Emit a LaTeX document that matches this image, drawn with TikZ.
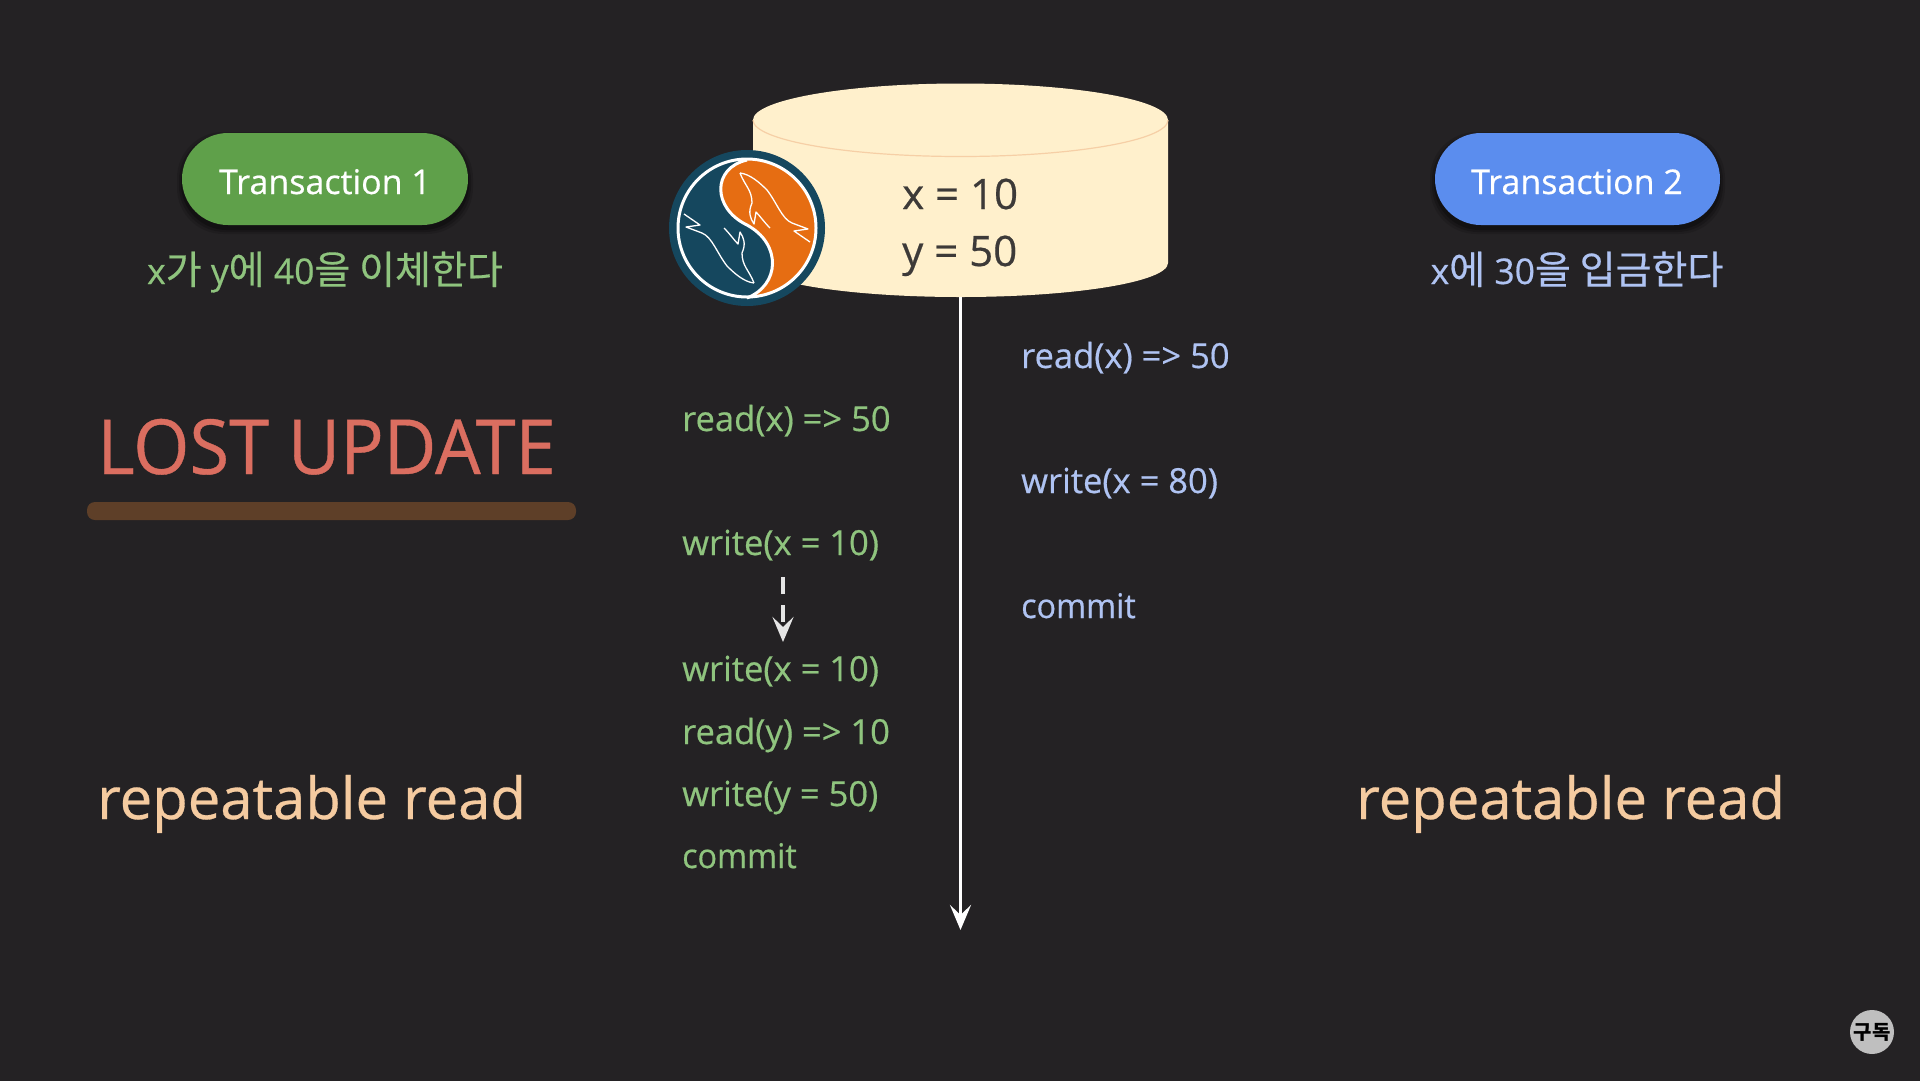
\documentclass[tikz,border=0pt]{standalone}
\usepackage{fontspec}
\setmainfont[FakeBold=0.5]{Open Sans}
\newfontfamily\headfont[FakeStretch=.95,FakeBold=0.5]{Open Sans}
\newfontfamily\commitfont[FakeStretch=.95,FakeBold=0.5]{Open Sans}
\newfontfamily\krfont[Scale=1.1,FakeBold=0.4]{Noto Sans CJK KR}
\newfontfamily\badgefont{Noto Sans CJK KR}
\usetikzlibrary{arrows.meta}
\definecolor{bgc}{HTML}{242224}
\definecolor{cream}{HTML}{FFF0CC}
\definecolor{creamline}{HTML}{F6CFA6}
\definecolor{dbtext}{HTML}{3D3A38}
\definecolor{tgreen}{HTML}{8FC47E}
\definecolor{tblue}{HTML}{AFC3F2}
\definecolor{pgreen}{HTML}{5FA04A}
\definecolor{pblue}{HTML}{5B8DEE}
\definecolor{lred}{HTML}{DB6E60}
\definecolor{lbar}{HTML}{5E3F28}
\definecolor{rorange}{HTML}{F5CBA0}
\definecolor{lteal}{HTML}{15475E}
\definecolor{lorange}{HTML}{E66D12}
\newcommand{\fs}[1]{\fontsize{#1}{#1}\selectfont}
\tikzset{
  x=1pt,y=-1pt,
  pill/.style={rounded corners=46pt},
  lbl/.style={anchor=base west,inner sep=0pt,font=\fs{34.5}},
  t1/.style={lbl,text=tgreen},
  t2/.style={lbl,text=tblue},
  pilltext/.style={anchor=base,inner sep=0pt,text=white,font=\fs{34}},
  sub/.style={anchor=base,inner sep=0pt,font=\fs{35.5}},
  level/.style={anchor=base west,inner sep=0pt,text=rorange,font=\fs{58}},
  dbt/.style={anchor=base west,inner sep=0pt,text=dbtext,font=\fs{42}},
  timeline/.style={white,line width=3.6pt,-{Stealth[length=25pt,width=21pt,inset=10pt]}},
}
\begin{document}
\begin{tikzpicture}
\useasboundingbox (0,0) rectangle (1920,1080);
\fill[bgc] (-6,-6) rectangle (1926,1086);
% pills
\foreach \c/\o in {5/.12,3/.18,1/.25}{
  \fill[black,opacity=\o,rounded corners=46pt] (182-\c,133+4-\c) rectangle (468+\c,225+4+\c);
  \fill[black,opacity=\o,rounded corners=46pt] (1435-\c,133+4-\c) rectangle (1720+\c,225+4+\c);
}
\fill[pgreen,pill] (182,133) rectangle (468,225);
\fill[pblue,pill] (1435,133) rectangle (1720,225);
\node[pilltext] (tx1) at (325,194) {Transaction 1};
\node[pilltext] (tx2) at (1577,194) {Transaction 2};
\node[sub,text=tgreen] (d1) at (325,284) {x{\krfont 가} y{\krfont 에} 40{\krfont 을 이체한다}};
\node[sub,text=tblue] (d2) at (1577,284) {x{\krfont 에} 30{\krfont 을 입금한다}};
% heading
\node[anchor=base west,inner sep=0pt,text=lred,font=\headfont\fs{76}] (lost) at (97,474) {LOST UPDATE};
\fill[lbar,rounded corners=8pt] (87,502) rectangle (576,520);
\node[level] (r1) at (97,819) {repeatable read};
\node[level] (r2) at (1356,819) {repeatable read};
% cylinder
\fill[cream] (753,120) arc[start angle=180,end angle=360,x radius=207.5,y radius=36.5]
  -- (1168,263) arc[start angle=0,end angle=180,x radius=207.5,y radius=34] -- cycle;
\draw[creamline,line width=1.2pt] (753,120) arc[start angle=180,end angle=0,x radius=207.5,y radius=36.5];
\coordinate (dbbottom) at (960.5,297);
\coordinate (timeend) at (960.5,930);
\node[dbt] (vx) at (902,209) {x = 10};
\node[dbt] (vy) at (902,266) {y = 50};
\draw[timeline] (dbbottom) -- (timeend);
% logo
\fill[lteal] (747,228) circle[radius=78];
\begin{scope}
  \clip (747,228) circle[radius=69];
  \fill[lorange] (747,160) .. controls (712,168) and (712,208) .. (747,225)
     .. controls (782,244) and (780,285) .. (747,298) -- (830,298) -- (830,160) -- cycle;
\end{scope}
\draw[white,line width=3pt] (747,228) circle[radius=69];
\draw[white,line width=3pt] (747,160) .. controls (712,168) and (712,208) .. (747,225)
     .. controls (782,244) and (780,285) .. (747,298);
\foreach \ang in {0,180}{
\begin{scope}[rotate around={\ang:(747,228)}]
  \draw[white,line width=1.3pt,line join=round]
    (740,173) .. controls (750,174) and (760,183) .. (767,190)
    .. controls (777,203) and (782,219) .. (792,223) -- (808,229) -- (794,231) -- (810,242);
  \draw[white,line width=1.3pt,line join=round]
    (740,173) .. controls (745,186) and (752,190) .. (752,203)
    .. controls (748,212) and (750,218) .. (754,224) -- (756,212) .. controls (760,216) and (764,222) .. (770,228);
\end{scope}}
% left column
\node[t1] (a1) at (682,431) {read(x) => 50};
\node[t1] (a2) at (682,555) {write(x = 10)};
\node[t1] (a3) at (682,681) {write(x = 10)};
\node[t1] (a4) at (682,744) {read(y) => 10};
\node[t1] (a5) at (682,806) {write(y = 50)};
\node[t1,font=\commitfont\fs{34}] (a6) at (682,868) {commit};
\coordinate (dashstart) at (783,577);
\coordinate (dashend) at (783,642);
\draw[white!90!black,line width=4.5pt,dash pattern=on 17pt off 11pt,-{Stealth[length=25pt,width=21pt,inset=10pt]}] (dashstart) -- (dashend);
% right column
\node[t2] (b1) at (1021,368) {read(x) => 50};
\node[t2] (b2) at (1021,493) {write(x = 80)};
\node[t2,font=\commitfont\fs{34}] (b3) at (1021,618) {commit};
% badge
\node[circle,fill=white!75!black,minimum size=44pt,inner sep=0pt,text=black,font=\badgefont\bfseries\fs{20}] (sub) at (1872,1032) {구독};
\end{tikzpicture}
\end{document}
